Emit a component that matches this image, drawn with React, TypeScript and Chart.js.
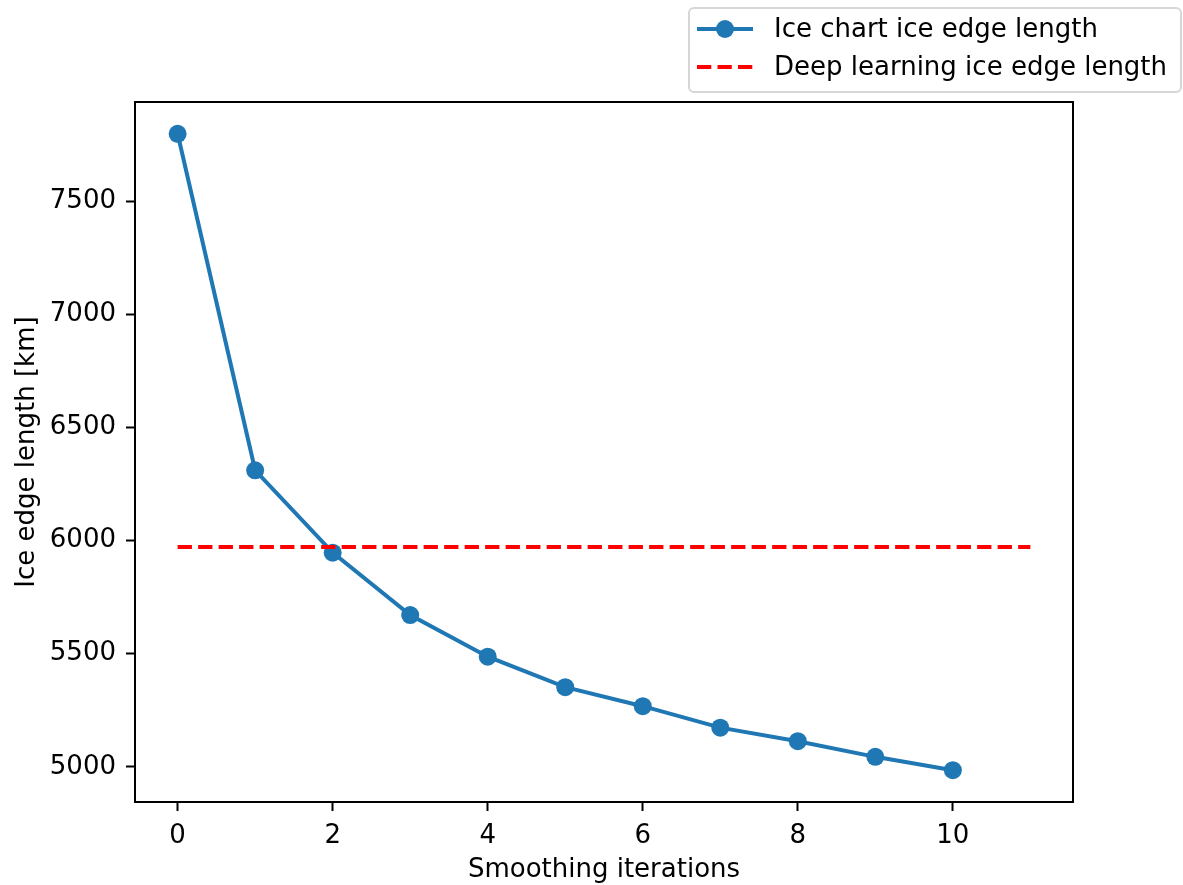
import React, { useEffect, useRef } from "react";
import { Chart, registerables } from "chart.js";

Chart.register(...registerables);

const iterations = [0, 1, 2, 3, 4, 5, 6, 7, 8, 9, 10];
const iceChartLength = [7799, 6311, 5947, 5671, 5487, 5352, 5268, 5173, 5113, 5044, 4985];
const deepLearningX = [0, 11];
const deepLearningLength = [5972, 5972];
const xTicks = [0, 2, 4, 6, 8, 10];
const yTicks = [5000, 5500, 6000, 6500, 7000, 7500];
const seriesLabels = ["Ice chart ice edge length", "Deep learning ice edge length"];
const xTitle = "Smoothing iterations";
const yTitle = "Ice edge length [km]";

const FONT = "'DejaVu Sans', sans-serif";
const FS = 26;
const BLUE = "#1f77b4";
const RED = "#ff0000";
const LW = 4;
const MR = 9;

const allX = [...iterations, ...deepLearningX];
const allY = [...iceChartLength, ...deepLearningLength];
const xMinD = Math.min(...allX), xMaxD = Math.max(...allX);
const yMinD = Math.min(...allY), yMaxD = Math.max(...allY);
const xPad = (xMaxD - xMinD) * 0.05;
const yPad = (yMaxD - yMinD) * 0.05;

const framePlugin = {
  id: "frame",
  afterDatasetsDraw(chart: any) {
    const { ctx, chartArea: a } = chart;
    ctx.save();
    ctx.strokeStyle = "#000";
    ctx.lineWidth = 2;
    ctx.strokeRect(a.left, a.top, a.right - a.left, a.bottom - a.top);
    ctx.restore();
  },
};

const legendPlugin = {
  id: "mplLegend",
  afterDraw(chart: any) {
    const ctx = chart.ctx;
    ctx.save();
    const x0 = 689, y0 = 8, x1 = 1181, y1 = 92, r = 5;
    ctx.beginPath();
    ctx.moveTo(x0 + r, y0);
    ctx.arcTo(x1, y0, x1, y1, r);
    ctx.arcTo(x1, y1, x0, y1, r);
    ctx.arcTo(x0, y1, x0, y0, r);
    ctx.arcTo(x0, y0, x1, y0, r);
    ctx.closePath();
    ctx.fillStyle = "rgba(255,255,255,0.8)";
    ctx.fill();
    ctx.strokeStyle = "#d6d6d6";
    ctx.lineWidth = 2;
    ctx.stroke();

    const rows = [29, 67];
    ctx.strokeStyle = BLUE;
    ctx.lineWidth = LW;
    ctx.beginPath();
    ctx.moveTo(697, rows[0]);
    ctx.lineTo(753, rows[0]);
    ctx.stroke();
    ctx.fillStyle = BLUE;
    ctx.beginPath();
    ctx.arc(725, rows[0], MR, 0, Math.PI * 2);
    ctx.fill();
    ctx.strokeStyle = RED;
    ctx.setLineDash([14.3, 6.2]);
    ctx.beginPath();
    ctx.moveTo(697, rows[1]);
    ctx.lineTo(753, rows[1]);
    ctx.stroke();
    ctx.setLineDash([]);

    ctx.fillStyle = "#000";
    ctx.font = `${FS}px ${FONT}`;
    ctx.textBaseline = "middle";
    ctx.textAlign = "left";
    ctx.fillText(seriesLabels[0], 774, rows[0] + 1);
    ctx.fillText(seriesLabels[1], 774, rows[1] + 1);
    ctx.restore();
  },
};

export default function App() {
  const ref = useRef<HTMLCanvasElement>(null);
  useEffect(() => {
    const canvas = ref.current!;
    const chart = new Chart(canvas, {
      type: "scatter",
      data: {
        datasets: [
          {
            label: seriesLabels[0],
            data: iterations.map((x, i) => ({ x, y: iceChartLength[i] })),
            showLine: true,
            borderColor: BLUE,
            backgroundColor: BLUE,
            borderWidth: LW,
            pointRadius: MR,
            pointBorderWidth: 0,
            pointBackgroundColor: BLUE,
            order: 2,
          },
          {
            label: seriesLabels[1],
            data: deepLearningX.map((x, i) => ({ x, y: deepLearningLength[i] })),
            showLine: true,
            borderColor: RED,
            borderWidth: LW,
            borderDash: [14.3, 6.2],
            pointRadius: 0,
            order: 1,
          },
        ],
      },
      options: {
        animation: false,
        responsive: false,
        devicePixelRatio: 1,
        layout: { padding: { top: 102, right: 110, left: 0, bottom: 0 } },
        plugins: { legend: { display: false }, tooltip: { enabled: false } },
        scales: {
          x: {
            type: "linear",
            min: xMinD - xPad,
            max: xMaxD + xPad,
            afterBuildTicks: (s: any) => {
              s.ticks = xTicks.map((v) => ({ value: v }));
            },
            afterFit: (s: any) => {
              s.height = 83;
            },
            grid: {
              drawOnChartArea: false,
              drawTicks: true,
              tickLength: 9,
              tickWidth: 2,
              tickColor: "#000",
            },
            border: { display: true, color: "#000", width: 2 },
            ticks: {
              color: "#000",
              font: { family: FONT, size: FS },
              padding: 10,
              maxRotation: 0,
              callback: (v: any) => String(v),
            },
            title: {
              display: true,
              text: xTitle,
              color: "#000",
              font: { family: FONT, size: FS },
              padding: { top: 0, bottom: -1 },
            },
          },
          y: {
            type: "linear",
            min: yMinD - yPad,
            max: yMaxD + yPad,
            afterBuildTicks: (s: any) => {
              s.ticks = yTicks.map((v) => ({ value: v }));
            },
            afterFit: (s: any) => {
              s.width = 135;
            },
            grid: {
              drawOnChartArea: false,
              drawTicks: true,
              tickLength: 9,
              tickWidth: 2,
              tickColor: "#000",
            },
            border: { display: true, color: "#000", width: 2 },
            ticks: {
              color: "#000",
              font: { family: FONT, size: FS },
              padding: 10,
              callback: (v: any) => String(v),
            },
            title: {
              display: true,
              text: yTitle,
              color: "#000",
              font: { family: FONT, size: FS },
              padding: { top: 12, bottom: 0 },
            },
          },
        },
      },
      plugins: [framePlugin, legendPlugin],
    } as any);
    return () => chart.destroy();
  }, []);
  return (
    <div style={{ position: "absolute", left: 0, top: 0, width: 1183, height: 885, background: "#fff" }}>
      <canvas ref={ref} width={1183} height={885} style={{ display: "block" }} />
    </div>
  );
}
